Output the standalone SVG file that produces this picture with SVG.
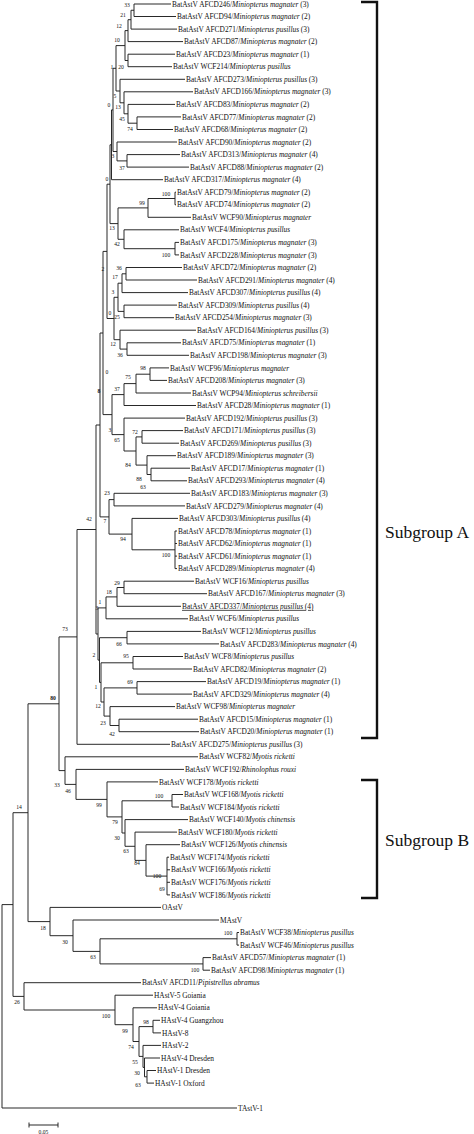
<svg xmlns="http://www.w3.org/2000/svg" width="474" height="1134" viewBox="0 0 474 1134">
<style>
.b{fill:none;stroke:#1e1e1e;stroke-width:0.95}
.k{fill:none;stroke:#111;stroke-width:2.4}
text{font-family:"Liberation Serif","Times New Roman",serif;fill:#111}
.t{font-size:7.4px}
.i{font-style:italic}
.s{font-size:5.6px;text-anchor:middle}
.g{font-size:17.5px}
</style>
<rect width="474" height="1134" fill="#fff"/>
<g id="connectors">
<path class="b" d="M134 4V16.5M134 4H171M134 16.5H176M131 10.25V29.1M131 10.25H134M131 29.1H177M128 19.7V41.6M128 19.7H131M128 41.6H183M128 54.2V66.7M128 54.2H175M128 66.7H172M125 30.6V60.5M125 30.6H128M125 60.5H128M137 116.9V129.5M137 116.9H181M137 129.5H173M128 104.4V123.2M128 104.4H175M128 123.2H137M124 91.8V113.8M124 91.8H193M124 113.8H128M120 79.3V102.8M120 79.3H185M120 102.8H124M116 45.6V91M116 45.6H125M116 91H120M127 154.6V167.1M127 154.6H180M127 167.1H189M117 142V160.9M117 142H177M117 160.9H127M113 68.3V151.5M113 68.3H116M113 151.5H117M111.5 109.9V179.7M111.5 109.9H113M111.5 179.7H163"/>
<path class="b" d="M175 192.2V204.8M175 192.2H176M175 204.8H176M148 198.5V217.3M148 198.5H175M148 217.3H191M175 242.4V254.9M175 242.4H179M175 254.9H179M124 229.8V248.7M124 229.8H179M124 248.7H175M118 207.9V239.3M118 207.9H148M118 239.3H124M110 144.8V223.6M110 144.8H111.5M110 223.6H118"/>
<path class="b" d="M126 267.5V280M126 267.5H182M126 280H197M122 273.8V292.6M122 273.8H126M122 292.6H188M124 305.1V317.7M124 305.1H177M124 317.7H174M118 283.2V311.4M118 283.2H122M118 311.4H124M127 342.8V355.3M127 342.8H181M127 355.3H189M120 330.2V349.1M120 330.2H196M120 349.1H127M114 297.3V339.7M114 297.3H118M114 339.7H120M107 184.2V318.5M107 184.2H110M107 318.5H114"/>
<path class="b" d="M150 367.9V380.4M150 367.9H169M150 380.4H167M136 374.2V393M136 374.2H150M136 393H191M124 383.6V405.5M124 383.6H136M124 405.5H196M142 430.6V443.2M142 430.6H183M142 443.2H179M151 468.2V480.8M151 468.2H190M151 480.8H187M147 455.7V474.5M147 455.7H176M147 474.5H151M136 436.9V465.1M136 436.9H142M136 465.1H147M124 418.1V451M124 418.1H185M124 451H136M112 394.6V434.6M112 394.6H124M112 434.6H124M103 251.4V414.6M103 251.4H107M103 414.6H112"/>
<path class="b" d="M114 493.3V505.9M114 493.3H190M114 505.9H185M175 531V568.6M175 531H177M175 543.5H177M175 556.1H177M175 568.6H177M132 518.4V549.8M132 518.4H178M132 549.8H175M109 499.6V534.1M109 499.6H114M109 534.1H132M100 333V516.9M100 333H103M100 516.9H109"/>
<path class="b" d="M124 581.2V593.7M124 581.2H194M124 593.7H207M117 587.5V606.3M117 587.5H124M117 606.3H181M106 596.9V618.8M106 596.9H117M106 618.8H188M127 631.4V643.9M127 631.4H201M127 643.9H219M133 656.5V669M133 656.5H183M133 669H192M137 681.6V694.1M137 681.6H206M137 694.1H192M119 719.2V731.7M119 719.2H198M119 731.7H199M110 706.6V725.5M110 706.6H175M110 725.5H119M104 687.9V716.1M104 687.9H137M104 716.1H110M101 662.8V702M101 662.8H133M101 702H104M99.5 637.7V682.4M99.5 637.7H127M99.5 682.4H101M98 607.9V660.1M98 607.9H106M98 660.1H99.5M96 425V634M96 425H100M96 634H98M77 529.5V744.3M77 529.5H96M77 744.3H170"/>
<path class="b" d="M172 794.5V807M172 794.5H183M172 807H179M167 857.2V894.9M167 857.2H169M167 869.8H170M167 882.3H170M167 894.9H170M146 844.7V876.1M146 844.7H180M146 876.1H167M135 832.1V860.4M135 832.1H177M135 860.4H146M125 819.6V846.3M125 819.6H188M125 846.3H135M122 800.8V833M122 800.8H172M122 833H125M107 781.9V816.9M107 781.9H158M107 816.9H122M76 769.4V799.4M76 769.4H184M76 799.4H107M65 756.8V784.4M65 756.8H198M65 784.4H76M59 636.9V770.6M59 636.9H77M59 770.6H65"/>
<path class="b" d="M237 932.5V945.1M237 932.5H239M237 945.1H239M203 957.6V970.2M203 957.6H211M203 970.2H210M100 938.8V963.9M100 938.8H237M100 963.9H203M73 920V951.4M73 920H219M73 951.4H100M50 907.4V935.7M50 907.4H161M50 935.7H73M28 703.8V921.6M28 703.8H59M28 921.6H50"/>
<path class="b" d="M153 1020.3V1032.9M153 1020.3H160M153 1032.9H161M147 1070.5V1083.1M147 1070.5H156M147 1083.1H154M144.5 1058V1076.8M144.5 1058H160M144.5 1076.8H147M143 1045.4V1067.4M143 1045.4H161M143 1067.4H144.5M139 1026.6V1056.4M139 1026.6H153M139 1056.4H143M133 1007.8V1041.5M133 1007.8H157M133 1041.5H139M115 995.2V1024.7M115 995.2H153M115 1024.7H133M24 982.7V1010M24 982.7H141M24 1010H115M13 812.7V996.4M13 812.7H28M13 996.4H24M2 904.6V1108M2 904.6H13M2 1108H237"/>
</g>
<g id="leaves" class="t">
<g id="leaf1"><text x="172" y="6.6">BatAstV AFCD246/<tspan class="i">Miniopterus magnater</tspan> (3)</text></g>
<g id="leaf2"><text x="177" y="19.1">BatAstV AFCD94/<tspan class="i">Miniopterus magnater</tspan> (2)</text></g>
<g id="leaf3"><text x="178" y="31.7">BatAstV AFCD271/<tspan class="i">Miniopterus pusillus</tspan> (3)</text></g>
<g id="leaf4"><text x="184" y="44.2">BatAstV AFCD87/<tspan class="i">Miniopterus magnater</tspan> (2)</text></g>
<g id="leaf5"><text x="176" y="56.8">BatAstV AFCD23/<tspan class="i">Miniopterus magnater</tspan> (1)</text></g>
<g id="leaf6"><text x="173" y="69.3">BatAstV WCF214/<tspan class="i">Miniopterus pusillus</tspan></text></g>
<g id="leaf7"><text x="186" y="81.9">BatAstV AFCD273/<tspan class="i">Miniopterus pusillus</tspan> (3)</text></g>
<g id="leaf8"><text x="194" y="94.4">BatAstV AFCD166/<tspan class="i">Miniopterus magnater</tspan> (3)</text></g>
<g id="leaf9"><text x="176" y="107">BatAstV AFCD83/<tspan class="i">Miniopterus magnater</tspan> (2)</text></g>
<g id="leaf10"><text x="182" y="119.5">BatAstV AFCD77/<tspan class="i">Miniopterus magnater</tspan> (2)</text></g>
<g id="leaf11"><text x="174" y="132.1">BatAstV AFCD68/<tspan class="i">Miniopterus magnater</tspan> (2)</text></g>
<g id="leaf12"><text x="178" y="144.6">BatAstV AFCD90/<tspan class="i">Miniopterus magnater</tspan> (2)</text></g>
<g id="leaf13"><text x="181" y="157.2">BatAstV AFCD313/<tspan class="i">Miniopterus magnater</tspan> (4)</text></g>
<g id="leaf14"><text x="190" y="169.7">BatAstV AFCD88/<tspan class="i">Miniopterus magnater</tspan> (2)</text></g>
<g id="leaf15"><text x="164" y="182.3">BatAstV AFCD317/<tspan class="i">Miniopterus magnater</tspan> (4)</text></g>
<g id="leaf16"><text x="177" y="194.8">BatAstV AFCD79/<tspan class="i">Miniopterus magnater</tspan> (2)</text></g>
<g id="leaf17"><text x="177" y="207.4">BatAstV AFCD74/<tspan class="i">Miniopterus magnater</tspan> (2)</text></g>
<g id="leaf18"><text x="192" y="219.9">BatAstV WCF90/<tspan class="i">Miniopterus magnater</tspan></text></g>
<g id="leaf19"><text x="180" y="232.4">BatAstV WCF4/<tspan class="i">Miniopterus pusillus</tspan></text></g>
<g id="leaf20"><text x="180" y="245">BatAstV AFCD175/<tspan class="i">Miniopterus magnater</tspan> (3)</text></g>
<g id="leaf21"><text x="180" y="257.5">BatAstV AFCD228/<tspan class="i">Miniopterus magnater</tspan> (3)</text></g>
<g id="leaf22"><text x="183" y="270.1">BatAstV AFCD72/<tspan class="i">Miniopterus magnater</tspan> (2)</text></g>
<g id="leaf23"><text x="198" y="282.6">BatAstV AFCD291/<tspan class="i">Miniopterus magnater</tspan> (4)</text></g>
<g id="leaf24"><text x="189" y="295.2">BatAstV AFCD307/<tspan class="i">Miniopterus pusillus</tspan> (4)</text></g>
<g id="leaf25"><text x="178" y="307.7">BatAstV AFCD309/<tspan class="i">Miniopterus pusillus</tspan> (4)</text></g>
<g id="leaf26"><text x="175" y="320.3">BatAstV AFCD254/<tspan class="i">Miniopterus magnater</tspan> (3)</text></g>
<g id="leaf27"><text x="197" y="332.8">BatAstV AFCD164/<tspan class="i">Miniopterus pusillus</tspan> (3)</text></g>
<g id="leaf28"><text x="182" y="345.4">BatAstV AFCD75/<tspan class="i">Miniopterus magnater</tspan> (1)</text></g>
<g id="leaf29"><text x="190" y="357.9">BatAstV AFCD198/<tspan class="i">Miniopterus magnater</tspan> (3)</text></g>
<g id="leaf30"><text x="170" y="370.5">BatAstV WCF96/<tspan class="i">Miniopterus magnater</tspan></text></g>
<g id="leaf31"><text x="168" y="383">BatAstV AFCD208/<tspan class="i">Miniopterus magnater</tspan> (3)</text></g>
<g id="leaf32"><text x="192" y="395.6">BatAstV WCP94/<tspan class="i">Miniopterus schreibersii</tspan></text></g>
<g id="leaf33"><text x="197" y="408.1">BatAstV AFCD28/<tspan class="i">Miniopterus magnater</tspan> (1)</text></g>
<g id="leaf34"><text x="186" y="420.7">BatAstV AFCD192/<tspan class="i">Miniopterus pusillus</tspan> (3)</text></g>
<g id="leaf35"><text x="184" y="433.2">BatAstV AFCD171/<tspan class="i">Miniopterus pusillus</tspan> (3)</text></g>
<g id="leaf36"><text x="180" y="445.8">BatAstV AFCD269/<tspan class="i">Miniopterus pusillus</tspan> (3)</text></g>
<g id="leaf37"><text x="177" y="458.3">BatAstV AFCD189/<tspan class="i">Miniopterus magnater</tspan> (3)</text></g>
<g id="leaf38"><text x="191" y="470.8">BatAstV AFCD17/<tspan class="i">Miniopterus magnater</tspan> (1)</text></g>
<g id="leaf39"><text x="188" y="483.4">BatAstV AFCD293/<tspan class="i">Miniopterus magnater</tspan> (4)</text></g>
<g id="leaf40"><text x="191" y="495.9">BatAstV AFCD183/<tspan class="i">Miniopterus magnater</tspan> (3)</text></g>
<g id="leaf41"><text x="186" y="508.5">BatAstV AFCD279/<tspan class="i">Miniopterus magnater</tspan> (4)</text></g>
<g id="leaf42"><text x="179" y="521">BatAstV AFCD303/<tspan class="i">Miniopterus pusillus</tspan> (4)</text></g>
<g id="leaf43"><text x="178" y="533.6">BatAstV AFCD78/<tspan class="i">Miniopterus magnater</tspan> (1)</text></g>
<g id="leaf44"><text x="178" y="546.1">BatAstV AFCD62/<tspan class="i">Miniopterus magnater</tspan> (1)</text></g>
<g id="leaf45"><text x="178" y="558.7">BatAstV AFCD61/<tspan class="i">Miniopterus magnater</tspan> (1)</text></g>
<g id="leaf46"><text x="178" y="571.2">BatAstV AFCD289/<tspan class="i">Miniopterus magnater</tspan> (4)</text></g>
<g id="leaf47"><text x="195" y="583.8">BatAstV WCF16/<tspan class="i">Miniopterus pusillus</tspan></text></g>
<g id="leaf48"><text x="208" y="596.3">BatAstV AFCD167/<tspan class="i">Miniopterus magnater</tspan> (3)</text></g>
<g id="leaf49"><text x="182" y="608.9" text-decoration="underline">BatAstV AFCD337/<tspan class="i">Miniopterus pusillus</tspan> (4)</text></g>
<g id="leaf50"><text x="189" y="621.4">BatAstV WCF6/<tspan class="i">Miniopterus pusillus</tspan></text></g>
<g id="leaf51"><text x="202" y="634">BatAstV WCF12/<tspan class="i">Miniopterus pusillus</tspan></text></g>
<g id="leaf52"><text x="220" y="646.5">BatAstV AFCD283/<tspan class="i">Miniopterus magnater</tspan> (4)</text></g>
<g id="leaf53"><text x="184" y="659.1">BatAstV WCF8/<tspan class="i">Miniopterus pusillus</tspan></text></g>
<g id="leaf54"><text x="193" y="671.6">BatAstV AFCD82/<tspan class="i">Miniopterus magnater</tspan> (2)</text></g>
<g id="leaf55"><text x="207" y="684.2">BatAstV AFCD19/<tspan class="i">Miniopterus magnater</tspan> (1)</text></g>
<g id="leaf56"><text x="193" y="696.7">BatAstV AFCD329/<tspan class="i">Miniopterus magnater</tspan> (4)</text></g>
<g id="leaf57"><text x="176" y="709.2">BatAstV WCF98/<tspan class="i">Miniopterus magnater</tspan></text></g>
<g id="leaf58"><text x="199" y="721.8">BatAstV AFCD15/<tspan class="i">Miniopterus magnater</tspan> (1)</text></g>
<g id="leaf59"><text x="200" y="734.3">BatAstV AFCD20/<tspan class="i">Miniopterus magnater</tspan> (1)</text></g>
<g id="leaf60"><text x="171" y="746.9">BatAstV AFCD275/<tspan class="i">Miniopterus pusillus</tspan> (3)</text></g>
<g id="leaf61"><text x="199" y="759.4">BatAstV WCF82/<tspan class="i">Myotis ricketti</tspan></text></g>
<g id="leaf62"><text x="185" y="772">BatAstV WCF192/<tspan class="i">Rhinolophus rouxi</tspan></text></g>
<g id="leaf63"><text x="159" y="784.5">BatAstV WCF178/<tspan class="i">Myotis ricketti</tspan></text></g>
<g id="leaf64"><text x="184" y="797.1">BatAstV WCF168/<tspan class="i">Myotis ricketti</tspan></text></g>
<g id="leaf65"><text x="180" y="809.6">BatAstV WCF184/<tspan class="i">Myotis ricketti</tspan></text></g>
<g id="leaf66"><text x="189" y="822.2">BatAstV WCF140/<tspan class="i">Myotis chinensis</tspan></text></g>
<g id="leaf67"><text x="178" y="834.7">BatAstV WCF180/<tspan class="i">Myotis ricketti</tspan></text></g>
<g id="leaf68"><text x="181" y="847.3">BatAstV WCF126/<tspan class="i">Myotis chinensis</tspan></text></g>
<g id="leaf69"><text x="170" y="859.8">BatAstV WCF174/<tspan class="i">Myotis ricketti</tspan></text></g>
<g id="leaf70"><text x="171" y="872.4">BatAstV WCF166/<tspan class="i">Myotis ricketti</tspan></text></g>
<g id="leaf71"><text x="171" y="884.9">BatAstV WCF176/<tspan class="i">Myotis ricketti</tspan></text></g>
<g id="leaf72"><text x="171" y="897.5">BatAstV WCF186/<tspan class="i">Myotis ricketti</tspan></text></g>
<g id="leaf73"><text x="162" y="910">OAstV</text></g>
<g id="leaf74"><text x="220" y="922.6">MAstV</text></g>
<g id="leaf75"><text x="240" y="935.1">BatAstV WCF38/<tspan class="i">Miniopterus pusillus</tspan></text></g>
<g id="leaf76"><text x="240" y="947.7">BatAstV WCF46/<tspan class="i">Miniopterus pusillus</tspan></text></g>
<g id="leaf77"><text x="212" y="960.2">BatAstV AFCD57/<tspan class="i">Miniopterus magnater</tspan> (1)</text></g>
<g id="leaf78"><text x="211" y="972.8">BatAstV AFCD98/<tspan class="i">Miniopterus magnater</tspan> (1)</text></g>
<g id="leaf79"><text x="142" y="985.3">BatAstV AFCD11/<tspan class="i">Pipistrellus abramus</tspan></text></g>
<g id="leaf80"><text x="154" y="997.8">HAstV-5 Goiania</text></g>
<g id="leaf81"><text x="158" y="1010.4">HAstV-4 Goiania</text></g>
<g id="leaf82"><text x="161" y="1022.9">HAstV-4 Guangzhou</text></g>
<g id="leaf83"><text x="162" y="1035.5">HAstV-8</text></g>
<g id="leaf84"><text x="162" y="1048">HAstV-2</text></g>
<g id="leaf85"><text x="161" y="1060.6">HAstV-4 Dresden</text></g>
<g id="leaf86"><text x="157" y="1073.1">HAstV-1 Dresden</text></g>
<g id="leaf87"><text x="155" y="1085.7">HAstV-1 Oxford</text></g>
<g id="leaf88"><text x="238" y="1110.6">TAstV-1</text></g>
</g>
<g id="bootstrap" class="s">
<text x="127" y="7">33</text><text x="123" y="17">21</text><text x="119" y="28">12</text><text x="117" y="42">10</text><text x="112" y="69">1</text><text x="121" y="69">20</text>
<text x="115" y="98">5</text><text x="118" y="109">13</text><text x="122" y="121">45</text><text x="130" y="131">74</text><text x="109" y="107">0</text><text x="113" y="158">3</text><text x="122" y="170">37</text><text x="107" y="181">0</text>
<text x="166" y="196">100</text><text x="142" y="205">99</text><text x="112" y="230">13</text><text x="117" y="246">42</text><text x="166" y="257">100</text>
<text x="103" y="271">2</text><text x="119" y="270">36</text><text x="115" y="279">17</text><text x="113" y="294">3</text><text x="110" y="315">0</text><text x="117" y="319">25</text><text x="113" y="346">12</text><text x="120" y="357">36</text>
<text x="107" y="374">0</text><text x="143" y="370">98</text><text x="128" y="379">75</text><text x="117" y="391">37</text><text x="99" y="393" font-weight="bold">8</text><text x="110" y="432">3</text><text x="135" y="434">72</text><text x="117" y="442">65</text>
<text x="128" y="467">84</text><text x="139" y="481">88</text><text x="143" y="489">63</text><text x="107" y="495">23</text><text x="89" y="521">42</text><text x="105" y="523">7</text><text x="123" y="541">94</text><text x="166" y="557">100</text>
<text x="117" y="585">29</text><text x="109" y="594">18</text><text x="100" y="604">1</text><text x="97" y="610">3</text><text x="65" y="631">73</text><text x="119" y="646">66</text><text x="94" y="657">2</text><text x="126" y="658">95</text>
<text x="130" y="684">69</text><text x="96" y="689">1</text><text x="98" y="708">12</text><text x="103" y="725">23</text><text x="112" y="736">42</text><text x="53" y="700" font-weight="bold">80</text>
<text x="57" y="787">33</text><text x="68" y="793">46</text><text x="159" y="798">100</text><text x="99" y="807">99</text><text x="19" y="809">14</text><text x="115" y="824">79</text><text x="117" y="840">30</text><text x="126" y="853">63</text><text x="137" y="865">84</text><text x="157" y="878">100</text><text x="162" y="891">69</text>
<text x="43" y="930">18</text><text x="65" y="944">30</text><text x="228" y="935">100</text><text x="93" y="959">63</text><text x="195" y="972">100</text>
<text x="17" y="1004">26</text><text x="106" y="1018">100</text><text x="146" y="1024">98</text><text x="125" y="1033">99</text><text x="131" y="1049">74</text><text x="135" y="1064">55</text><text x="137" y="1075">30</text><text x="138" y="1087">63</text>
</g>
<g id="scale">
<path class="b" d="M29 1125H58M29 1122.5V1127.5M58 1122.5V1127.5"/>
<text class="s" x="43.5" y="1133.5">0.05</text>
</g>
<g id="subgroupA">
<path class="k" d="M361 2H377V738H361"/>
<text class="g" x="385" y="538">Subgroup A</text>
</g>
<g id="subgroupB">
<path class="k" d="M361 780H377V898H361"/>
<text class="g" x="385" y="846">Subgroup B</text>
</g>
</svg>
